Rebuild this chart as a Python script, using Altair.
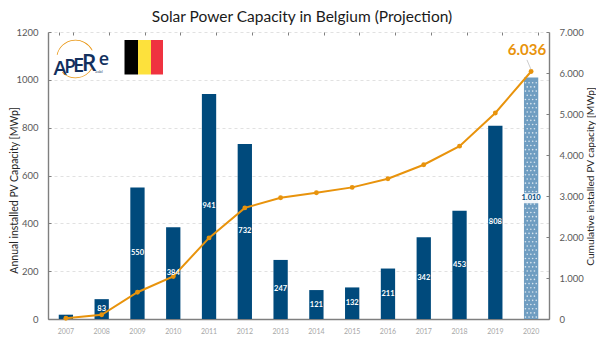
import altair as alt
import pandas as pd

FONT = "Lato"
YEARS = [str(y) for y in range(2007, 2021)]
ANNUAL = [18, 83, 550, 384, 941, 732, 247, 121, 132, 211, 342, 453, 808, 1010]
LABELS = ["", "83", "550", "384", "941", "732", "247", "121", "132", "211", "342", "453", "808", ""]
CUMUL = [20, 103, 653, 1037, 1978, 2710, 2957, 3078, 3210, 3421, 3763, 4216, 5024, 6036]
PROJECTED = "2020"
PROJECTED_LABEL = "1.010"
TOTAL_LABEL = "6.036"

NAVY = "#004a7c"
ORANGE = "#e8930c"
GREY = "#7f7f7f"
TXT = "#595959"

df = pd.DataFrame({"year": YEARS, "annual": ANNUAL, "label": LABELS, "cumul": CUMUL})
actual = df[df.year != PROJECTED]
proj = df[df.year == PROJECTED]

xscale = alt.Scale(domain=YEARS, paddingInner=0.6, paddingOuter=0.3)
lscale = alt.Scale(domain=[0, 1200], nice=False)
rscale = alt.Scale(domain=[0, 7000], nice=False)

x_main = alt.X("year:N", scale=xscale, title=None, axis=alt.Axis(
    labelAngle=0, labelFont=FONT, labelFontSize=7, labelColor="#a6a6a6", labelPadding=8,
    ticks=False, domainColor=GREY, domainWidth=1.4, grid=False))
x_plain = alt.X("year:N", scale=xscale, title=None, axis=None)

left_axis = alt.Axis(
    values=[0, 200, 400, 600, 800, 1000, 1200], format="d",
    title="Annual installed PV Capacity [MWp]",
    titleFont=FONT, titleFontSize=10.5, titleFontWeight="normal", titleColor="#262626",
    titleX=-34, titleY=158, titleAngle=270, titleBaseline="middle",
    labelFont=FONT, labelFontSize=9.5, labelColor=TXT, labelPadding=10, ticks=False,
    domainColor=GREY, domainWidth=1.4, grid=True, gridColor="#d9d9d9", gridDash=[3, 3], gridWidth=0.8)
right_axis = alt.Axis(
    orient="right", values=[0, 1000, 2000, 3000, 4000, 5000, 6000, 7000],
    labelExpr="datum.value === 0 ? '0' : replace(format(datum.value, ','), ',', '.')",
    title="Cumulative installed PV capacity [MWp]",
    titleFont=FONT, titleFontSize=10.2, titleFontWeight="normal", titleColor="#262626",
    titleX=41, titleY=144, titleAngle=270, titleBaseline="middle",
    labelFont=FONT, labelFontSize=9.5, labelColor=TXT, labelPadding=10, ticks=False,
    domainColor=GREY, domainWidth=1.4, grid=False)

bars = alt.Chart(actual).mark_bar(color=NAVY, width=14.3).encode(
    x=x_main, y=alt.Y("annual:Q", scale=lscale, axis=left_axis))
proj_bar = alt.Chart(proj).mark_bar(color="#6f9dc1", width=14.3).encode(
    x=x_plain, y=alt.Y("annual:Q", scale=lscale, axis=None))

# texture of the projected bar (xOffset counts from the band's start)
dots = pd.DataFrame([
    {"year": PROJECTED, "v": 8 + r * 17.5, "dx": 1.5 + c * 3.6 + (r % 2) * 1.8}
    for r in range(57) for c in range(3 + (r + 1) % 2)
])
dot_layer = alt.Chart(dots).mark_circle(color="white", size=2.6, opacity=0.75).encode(
    x=x_plain, xOffset=alt.XOffset("dx:Q", scale=None),
    y=alt.Y("v:Q", scale=lscale, axis=None))

line = alt.Chart(df).mark_line(color=ORANGE, strokeWidth=2).encode(
    x=x_plain, y=alt.Y("cumul:Q", scale=rscale, axis=right_axis))
pts = alt.Chart(df).mark_circle(color=ORANGE, size=24, opacity=1).encode(
    x=x_plain, y=alt.Y("cumul:Q", scale=rscale, axis=None))

bar_txt = alt.Chart(actual.assign(mid=actual.annual / 2)).mark_text(
    font=FONT, fontSize=7.5, fontWeight="bold", color="white").encode(
    x=x_plain, y=alt.Y("mid:Q", scale=lscale, axis=None), text="label:N")

box = alt.Chart(pd.DataFrame({"year": [PROJECTED], "a": [484], "b": [526]})).mark_bar(
    color="white", opacity=0.9, width=20, cornerRadius=1).encode(
    x=x_plain, y=alt.Y("a:Q", scale=lscale, axis=None), y2="b:Q")
box_txt = alt.Chart(pd.DataFrame({"year": [PROJECTED], "v": [505], "t": [PROJECTED_LABEL]})).mark_text(
    font=FONT, fontSize=7.5, fontWeight="bold", color=NAVY).encode(
    x=x_plain, y=alt.Y("v:Q", scale=lscale, axis=None), text="t:N")

leader = alt.Chart(pd.DataFrame({"year": [PROJECTED] * 2, "v": [6090, 6320], "dx": [7, 3]})).mark_line(
    color="#bfbfbf", strokeWidth=0.8).encode(
    x=x_plain, xOffset=alt.XOffset("dx:Q", scale=None),
    y=alt.Y("v:Q", scale=rscale, axis=None))
total_txt = alt.Chart(pd.DataFrame({"year": [PROJECTED], "v": [6440], "t": [TOTAL_LABEL], "dx": [3]})).mark_text(
    font=FONT, fontSize=15, fontWeight="bold", color=ORANGE, baseline="alphabetic").encode(
    x=x_plain, xOffset=alt.XOffset("dx:Q", scale=None),
    y=alt.Y("v:Q", scale=rscale, axis=None), text="t:N")

# inward tick marks: extra axes moved into the plot
tick_kw = dict(labels=False, domain=False, grid=False, tickColor=GREY, tickWidth=1, title=None)
ghost = alt.Chart(df).mark_circle(opacity=0, size=1)
x_ticks = ghost.encode(
    x=alt.X("year:N", scale=xscale, title=None, axis=alt.Axis(
        offset=-3, tickSize=3, tickBand="extent", **tick_kw)),
    y=alt.Y("annual:Q", scale=lscale, axis=None))
l_ticks = ghost.encode(
    x=x_plain,
    y=alt.Y("annual:Q", scale=lscale, axis=alt.Axis(
        offset=-3, tickSize=3, values=[0, 200, 400, 600, 800, 1000, 1200], **tick_kw)))
r_ticks = ghost.encode(
    x=x_plain,
    y=alt.Y("cumul:Q", scale=rscale, axis=alt.Axis(
        orient="right", offset=-3, tickSize=3,
        values=[0, 1000, 2000, 3000, 4000, 5000, 6000, 7000], **tick_kw)))

# logo and flag (page px minus plot origin 48,32)
def px(v):
    return alt.value(v - 48)
def py(v):
    return alt.value(v - 32)

LOGO_LETTERS = ["A", "P", "E", "R", "e"]
LOGO_SIZES = [20, 19, 20, 23, 18]
LOGO_X = [60, 70, 78.5, 89, 104]
LOGO_Y = [75, 73, 72, 71, 64.5]
logo = []
for ch, fs, lx, ly in zip(LOGO_LETTERS, LOGO_SIZES, LOGO_X, LOGO_Y):
    logo.append(alt.Chart(pd.DataFrame({"t": [ch]})).mark_text(
        font="Open Sans", fontSize=fs, fontWeight=600, color="#12305e", baseline="alphabetic", align="center"
    ).encode(x=px(lx), y=py(ly), text="t:N"))
logo.append(alt.Chart(pd.DataFrame({"t": ["asbl"]})).mark_text(
    font="Open Sans", fontSize=4, color="#12305e", align="center"
).encode(x=px(99), y=py(72), text="t:N"))
for a, b in [(4.93, 7.38), (2.1, 3.93)]:
    logo.append(alt.Chart(pd.DataFrame({"k": [1]})).mark_arc(
        color=ORANGE, radius=19.2, radius2=18.5, theta=a, theta2=b
    ).encode(x=px(75.5), y=py(59)))

FLAG_COLORS = ["#000000", "#fde13c", "#ef3340"]
FLAG_X = [124.5, 138, 151, 163]
flag = [alt.Chart(pd.DataFrame({"k": [1]})).mark_rect(color=c).encode(
            x=px(FLAG_X[i]), x2=px(FLAG_X[i + 1]), y=py(40), y2=py(74.5))
        for i, c in enumerate(FLAG_COLORS)]

chart = alt.layer(
    bars, proj_bar, dot_layer, line, pts, bar_txt, box, box_txt, leader, total_txt,
    x_ticks, l_ticks, r_ticks, *logo, *flag
).resolve_scale(y="independent").resolve_axis(x="independent", y="independent").properties(
    width=501, height=287,
    title=alt.TitleParams("Solar Power Capacity in Belgium (Projection)", font=FONT, fontSize=15.5,
                          fontWeight="normal", color="#1a1a1a", anchor="middle", dx=3.5, offset=2),
    autosize=alt.AutoSizeParams(type="none"),
    padding={"left": 40, "top": 24, "right": 47, "bottom": 36},
    background="white",
).configure_view(stroke=None)

chart.save("out.html", embed_options={"renderer": "svg", "actions": False})
